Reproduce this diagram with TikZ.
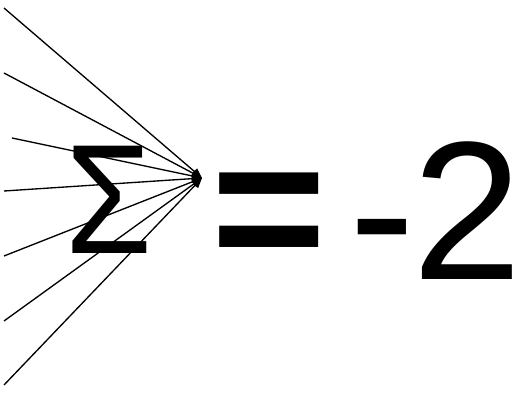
\documentclass[tikz,border=0pt]{standalone}
\usepackage{fontspec}
\setmainfont{Liberation Sans}
\usetikzlibrary{arrows.meta}
\definecolor{inkBlack}{RGB}{0, 0, 0}

\begin{document}
\begin{tikzpicture}[x=0.75pt, y=-0.75pt,
    inline/.style={inkBlack, line width=1pt, -{Triangle[length=7.5pt, width=6pt]}},
    bigsym/.style={inkBlack, inner sep=0pt, anchor=base}]
  \useasboundingbox (0,0) rectangle (519,395);

  % summing point where all inputs meet
  \coordinate (tip) at (202,178);

  % seven inputs coming in from the left edge
  \foreach \i/\x/\y in {1/4/8, 2/4/73, 3/12/138, 4/4/191, 5/4/256, 6/4/321, 7/4/385} {
    \coordinate (in\i) at (\x,\y);
    \draw[inline] (in\i) -- (tip);
  }

  % the sum and its value
  \node[bigsym, xscale=0.9, font=\fontsize{117pt}{117pt}\selectfont] (sigma) at (109,254) {Σ};
  \node[bigsym, font=\bfseries\fontsize{148pt}{148pt}\selectfont] (equals) at (269.5,276) {=};
  \node[bigsym, font=\fontsize{148pt}{148pt}\selectfont] (minus) at (382.5,280) {-};
  \node[bigsym, font=\fontsize{148pt}{148pt}\selectfont] (two) at (467.5,280) {2};
\end{tikzpicture}
\end{document}
